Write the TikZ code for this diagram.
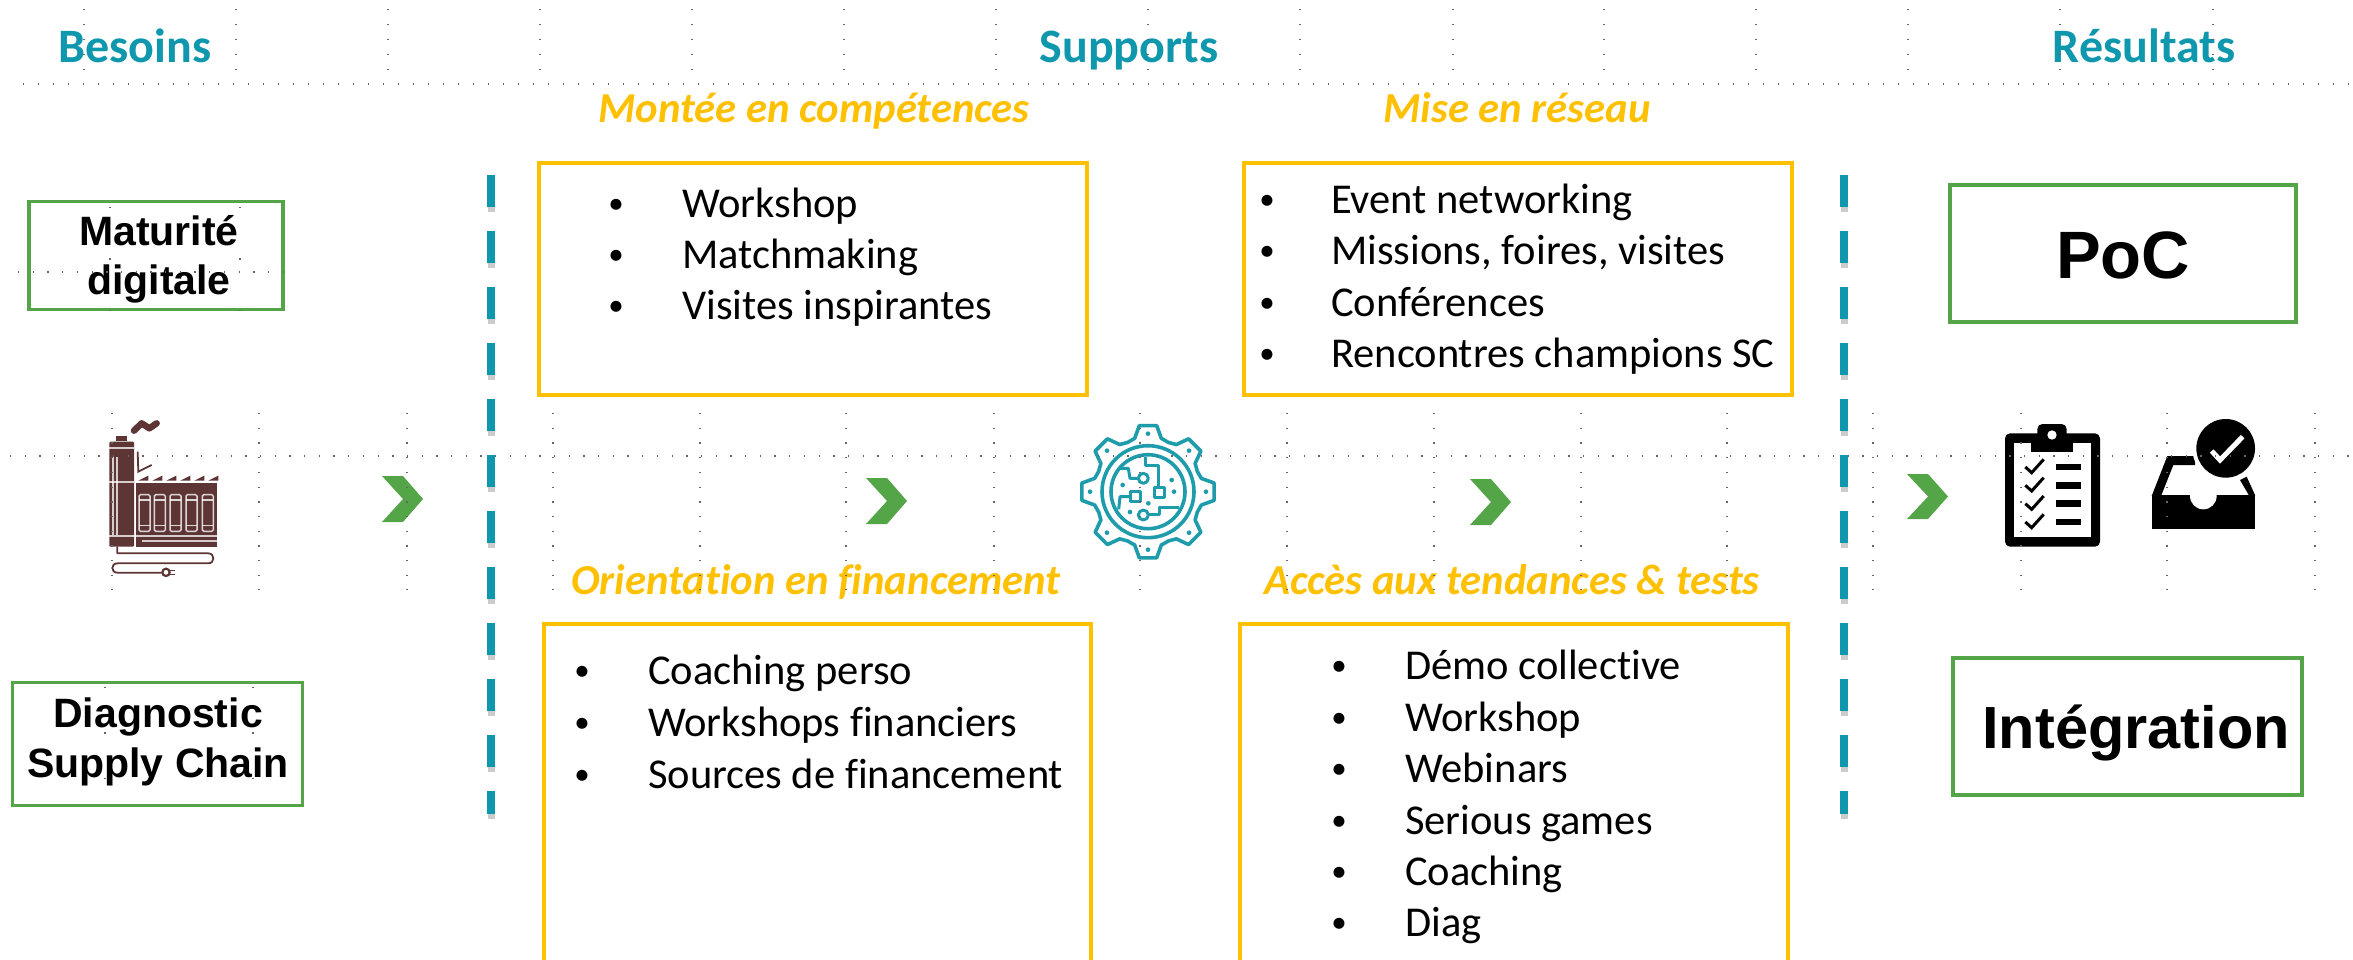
\documentclass[tikz,border=0pt]{standalone}
\usepackage{fontspec}
\setmainfont{Carlito}[Ligatures=NoCommon]
\newfontfamily\lib{Liberation Sans}
\definecolor{tealT}{HTML}{0E97AD}
\definecolor{orangeT}{HTML}{FFC000}
\definecolor{greenT}{HTML}{54A548}
\definecolor{brownT}{HTML}{5E3535}
\definecolor{gearT}{HTML}{1F9CAB}
\newcommand\fs[1]{\fontsize{#1}{#1}\selectfont}
\tikzset{
  lab/.style={inner sep=0pt,outer sep=0pt,anchor=base},
  title/.style={lab,text=tealT,font=\fs{48}\bfseries},
  head/.style={lab,text=orangeT,font=\fs{42.7}\bfseries\itshape},
  body/.style={inner sep=0pt,anchor=base west,font=\fs{42.5}},
  bul/.style={inner sep=0pt,anchor=base,font=\fs{31}},
  blk/.style={lab,font=\lib\bfseries\fs{41}},
  ybox/.style={draw=orangeT,line width=4pt,inner sep=0pt,fill=white},
  gbox/.style={draw=greenT,line width=3.5pt,inner sep=0pt,fill=white},
  chev/.style={fill=greenT,draw=none},
  dashline/.style={draw=tealT,line width=8pt,dash pattern=on 32pt off 24pt},
  dashshadow/.style={draw=black!45,opacity=.45,line width=7pt,dash pattern=on 32pt off 24pt},
  gridh/.style={draw=black!60,line width=1.3pt,dash pattern=on 1.3pt off 13.7pt},
  gridm/.style={draw=black!60,line width=1.3pt,dash pattern=on 1.3pt off 13.4pt},
  gw/.style={draw=gearT,line width=3.6pt,line join=round},
}
\newcommand\chevron[4]{% name, left x, top y, height
  \fill[chev] (#2,#3) coordinate (#1) -- ++(21,0) -- ++(20,#4/2) -- ++(-20,#4/2) -- ++(-21,0) -- ++(21,-#4/2) -- cycle;}
\newcommand\listitem[5]{%
  \node[bul] (#1b) at (#2,#4-3) {•};
  \node[body] (#1) at (#3,#4+1.5) {#5};}
\begin{document}
\begin{tikzpicture}[x=1pt,y=-1pt]
\clip (0,0) rectangle (2353,959);
\fill[white] (0,0) rectangle (2353,959);

% titles
\node[title] (tb) at (135,62) {Besoins};
\node[title] (ts) at (1129,62) {Supports};
\node[title] (tr) at (2144,62) {Résultats};

% heads
\node[head] (h1) at (814,122.5) {Montée en compétences};
\node[head] (h2) at (1517,122.5) {Mise en réseau};
\node[head] (h3) at (816,594.5) {Orientation en financement};
\node[head] (h4) at (1512,594.5) {Accès aux tendances \& tests};

% yellow boxes
\node[ybox,minimum width=548pt,minimum height=232pt] (b1) at (813,279) {};
\node[ybox,minimum width=548pt,minimum height=232pt] (b2) at (1518,279) {};
\node[ybox,minimum width=547pt,minimum height=400pt] (b3) at (817.5,824) {};
\node[ybox,minimum width=548pt,minimum height=400pt] (b4) at (1514,824) {};

% lists
\listitem{a1}{616}{682}{216}{Workshop}
\listitem{a2}{616}{682}{267}{Matchmaking}
\listitem{a3}{616}{682}{318}{Visites inspirantes}
\listitem{c1}{1267}{1331}{212}{Event networking}
\listitem{c2}{1267}{1331}{263}{Missions, foires, visites}
\listitem{c3}{1267}{1331}{315}{Conférences}
\listitem{c4}{1267}{1331}{366}{Rencontres champions SC}
\listitem{e1}{582}{648}{683}{Coaching perso}
\listitem{e2}{582}{648}{735}{Workshops financiers}
\listitem{e3}{582}{648}{787}{Sources de financement}
\listitem{f1}{1339}{1405}{678}{Démo collective}
\listitem{f2}{1339}{1405}{730}{Workshop}
\listitem{f3}{1339}{1405}{781}{Webinars}
\listitem{f4}{1339}{1405}{833}{Serious games}
\listitem{f5}{1339}{1405}{884}{Coaching}
\listitem{f6}{1339}{1405}{935}{Diag}

% green boxes
\node[gbox,minimum width=254pt,minimum height=108pt] (g1) at (156,255.5) {};
\node[gbox,minimum width=290pt,minimum height=123pt] (g2) at (157.5,744) {};
\node[gbox,minimum width=346pt,minimum height=137pt] (g3) at (2123,253.5) {};
\node[gbox,minimum width=349pt,minimum height=137pt] (g4) at (2127.5,726.5) {};
\node[blk] (l1a) at (159,245) {Maturité};
\node[blk] (l1b) at (159,294) {digitale};
\node[blk] (l2a) at (158,727) {Diagnostic};
\node[blk] (l2b) at (158,777) {Supply Chain};
\node[blk,font=\lib\bfseries\fs{67}] (l3) at (2123,278) {PoC};
\node[blk,font=\lib\bfseries\fs{59.5}] (l4) at (2136,748) {Intégration};

% dashed separators
\coordinate (d1a) at (491,175); \coordinate (d1b) at (491,814);
\coordinate (d2a) at (1844,175); \coordinate (d2b) at (1844,814);
\coordinate (s1a) at (491,180); \coordinate (s1b) at (491,819);
\coordinate (s2a) at (1844,180); \coordinate (s2b) at (1844,819);
\draw[dashshadow] (s1a) -- (s1b);
\draw[dashshadow] (s2a) -- (s2b);
\draw[dashline] (d1a) -- (d1b);
\draw[dashline] (d2a) -- (d2b);

% chevrons
\chevron{ch1}{382}{476}{46}
\chevron{ch2}{866}{478}{46}
\chevron{ch3}{1470}{479}{46}
\chevron{ch4}{1907}{474}{45}

% factory
\begin{scope}[shift={(60,390)},x=1/3*1pt,y=-1/3*1pt]
  \draw[brownT,line width=6.5pt,line cap=round,line join=round] (222,122) -- (245,100) -- (268,115) -- (290,100);
  \fill[brownT] (168,138) rectangle (200,152);
  \fill[brownT,rounded corners=1pt] (148,155) rectangle (222,470);
  \fill[brownT] (228,280) rectangle (470,470);
  \draw[brownT,line width=1.8pt] (233,185) -- (235,245) -- (275,225);
  \foreach \k in {0,...,5} \fill[brownT] ({235+\k*42},272) -- ({265+\k*42},257) -- ({265+\k*42},272) -- cycle;
  \fill[white,opacity=.75] (148,172) rectangle (222,178);
  \fill[white,opacity=.75] (148,272) rectangle (222,278);
  \fill[white,opacity=.75] (148,436) rectangle (470,442);
  \fill[white,opacity=.75] (245,449) rectangle (470,456);
  \fill[white,opacity=.75] (155,200) rectangle (161,436);
  \fill[white,opacity=.75] (169,200) rectangle (175,436);
  \foreach \wx in {237,283,330,378,427} {
    \draw[white,opacity=.8,line width=1.5pt,rounded corners=1.5pt] (\wx,314) rectangle (\wx+33,424);
    \draw[white,opacity=.8,line width=1.2pt] (\wx,330) -- (\wx+33,330);
    \draw[white,opacity=.8,line width=1.2pt] (\wx,406) -- (\wx+33,406);
  }
  \draw[brownT,line width=1.8pt,line join=round] (172,470) -- (172,490) -- (445,490) .. controls (465,490) and (465,520) .. (445,520) -- (172,520) .. controls (152,520) and (152,548) .. (172,548) -- (305,548);
  \draw[brownT,line width=2.2pt] (318,547) circle[radius=11];
  \draw[brownT,line width=1.5pt] (328,541) -- (345,541) (328,553) -- (345,553);
\end{scope}

% gear
\begin{scope}[shift={(1148,491.7)},x=1/3*1pt,y=-1/3*1pt]
  \draw[gw] (-14:165) \foreach \a in {0,45,...,315} {
     -- (\a-14:165) -- (\a-7.5:200) -- (\a+7.5:200) -- (\a+14:165) -- (\a+22.5:160)
  } -- cycle;
  \draw[gw] (0,0) circle[radius=138];
  \draw[gw] (0,0) circle[radius=111];
  \foreach \a in {0,45,...,315} \fill[gearT] (\a:174) circle[radius=7];
\end{scope}
\begin{scope}[shift={(1040,400)},x=1/3*1pt,y=-1/3*1pt]
  \draw[gw,line width=3pt] (240,205) -- (265,205) -- (270,235) -- (295,235);
  \draw[gw,line width=3pt] (310,235) circle[radius=15];
  \draw[gw,line width=3pt] (315,172) -- (315,195) -- (355,195) -- (355,262);
  \draw[gw,line width=3pt] (342,262) rectangle (372,292);
  \draw[gw,line width=3pt] (236,328) -- (240,290) -- (270,290);
  \draw[gw,line width=3pt] (270,275) rectangle (300,305);
  \draw[gw,line width=3pt] (418,322) -- (358,322) -- (358,342) -- (325,342);
  \draw[gw,line width=3pt] (310,345) circle[radius=15];
  \foreach \p in {(248,255),(395,240),(402,275),(325,310),(270,336)} \fill[gearT] \p circle[radius=7];
\end{scope}

% clipboard and inbox
\begin{scope}[shift={(1880,400)},x=1/3*1pt,y=-1/3*1pt]
  \fill[black,rounded corners=5pt] (375,100) rectangle (660,440);
  \fill[white] (402,128) rectangle (632,412);
  \fill[black,rounded corners=5pt] (472,72) rectangle (560,135);
  \fill[black] (452,120) rectangle (580,155);
  \fill[white] (516,105) circle[radius=14];
  \foreach \yy in {201,256,311,366} {
    \draw[black,line width=3pt] (436,\yy) -- (455,\yy+17) -- (491,\yy-23);
    \fill[black] (527,\yy-10) rectangle (604,\yy+10);
  }
  \fill[black] (815,285) -- (815,387) -- (1125,387) -- (1125,285) -- cycle;
  \fill[black] (815,288) -- (862,168) -- (945,168) -- (945,195) -- (880,195) -- (843,288) -- cycle;
  \fill[black] (1125,288) -- (1125,285) -- (1100,230) -- (1080,240) -- (1108,288) -- cycle;
  \fill[white] (970,288) circle[radius=40];
  \fill[white] (1037,145) circle[radius=100];
  \fill[black] (1037,145) circle[radius=88];
  \draw[white,line width=5pt] (995,153) -- (1020,180) -- (1088,110);
\end{scope}

% dotted guide grid
\coordinate (ga) at (23,84); \coordinate (gb) at (2353,84);
\coordinate (gc) at (10,456); \coordinate (gd) at (2353,456);
\coordinate (ge) at (18,272); \coordinate (gf) at (285,272);
\draw[gridh] (ga) -- (gb);
\draw[gridm] (gc) -- (gd);
\draw[gridm] (ge) -- (gf);
\foreach \x in {84,236,388,540,692,844,996,1148,1300,1453,1604,1756,1908,2060,2213}
  \draw[gridh] (\x,9) -- (\x,72);
\foreach \x in {112,259,407,553,700,846,994,1140,1287,1434,1581,1727,1873,2021,2167,2315}
  \draw[gridm] (\x,413) -- (\x,590);
\foreach \x in {110,240} \draw[gridm,dash pattern=on 1.3pt off 50pt] (\x,207) -- (\x,312);
\foreach \x in {105,253} \draw[gridm,dash pattern=on 1.3pt off 44pt] (\x,687) -- (\x,792);
\end{tikzpicture}
\end{document}
